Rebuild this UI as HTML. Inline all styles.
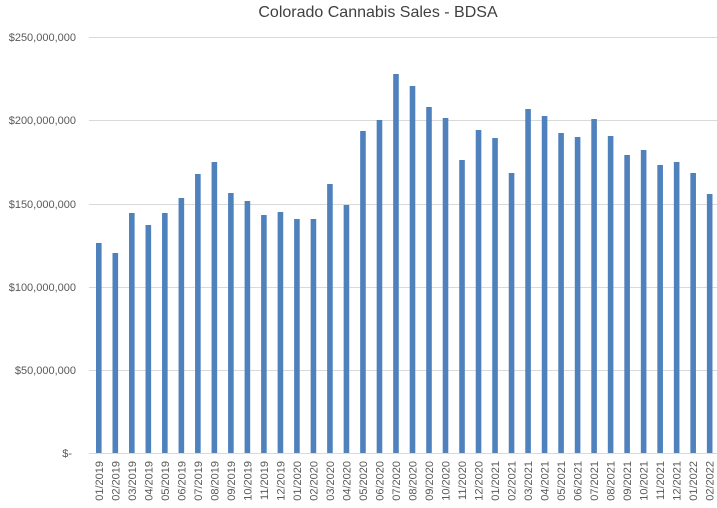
<!DOCTYPE html>
<html><head><meta charset="utf-8"><style>
html,body{margin:0;padding:0;background:#fff;}
svg{display:block;font-family:"Liberation Sans",Arial,sans-serif;}
</style></head><body>
<svg width="717" height="508" xmlns="http://www.w3.org/2000/svg">
<text x="378" y="17" text-anchor="middle" font-size="16" fill="#404040">Colorado Cannabis Sales - BDSA</text>
<g stroke="#d9d9d9" stroke-width="1">
<line x1="89" x2="717" y1="37.5" y2="37.5"/>
<line x1="89" x2="717" y1="120.5" y2="120.5"/>
<line x1="89" x2="717" y1="204.5" y2="204.5"/>
<line x1="89" x2="717" y1="287.5" y2="287.5"/>
<line x1="89" x2="717" y1="370.5" y2="370.5"/>
<line x1="89" x2="717" y1="453.5" y2="453.5"/>
</g>
<g font-size="11" fill="#595959" text-anchor="end">
<text x="76" y="41">$250,000,000</text>
<text x="76" y="124">$200,000,000</text>
<text x="76" y="208">$150,000,000</text>
<text x="76" y="291">$100,000,000</text>
<text x="76" y="374">$50,000,000</text>
<text x="72" y="457">$-</text>
</g>
<g fill="#4f81bd">
<rect x="96.00" y="243" width="5.6" height="210"/>
<rect x="112.51" y="253" width="5.6" height="200"/>
<rect x="129.02" y="213" width="5.6" height="240"/>
<rect x="145.53" y="225" width="5.6" height="228"/>
<rect x="162.04" y="213" width="5.6" height="240"/>
<rect x="178.55" y="198" width="5.6" height="255"/>
<rect x="195.06" y="174" width="5.6" height="279"/>
<rect x="211.57" y="162" width="5.6" height="291"/>
<rect x="228.08" y="193" width="5.6" height="260"/>
<rect x="244.59" y="201" width="5.6" height="252"/>
<rect x="261.10" y="215" width="5.6" height="238"/>
<rect x="277.61" y="212" width="5.6" height="241"/>
<rect x="294.12" y="219" width="5.6" height="234"/>
<rect x="310.63" y="219" width="5.6" height="234"/>
<rect x="327.14" y="184" width="5.6" height="269"/>
<rect x="343.65" y="205" width="5.6" height="248"/>
<rect x="360.16" y="131" width="5.6" height="322"/>
<rect x="376.67" y="120" width="5.6" height="333"/>
<rect x="393.18" y="74" width="5.6" height="379"/>
<rect x="409.69" y="86" width="5.6" height="367"/>
<rect x="426.20" y="107" width="5.6" height="346"/>
<rect x="442.71" y="118" width="5.6" height="335"/>
<rect x="459.22" y="160" width="5.6" height="293"/>
<rect x="475.73" y="130" width="5.6" height="323"/>
<rect x="492.24" y="138" width="5.6" height="315"/>
<rect x="508.75" y="173" width="5.6" height="280"/>
<rect x="525.26" y="109" width="5.6" height="344"/>
<rect x="541.77" y="116" width="5.6" height="337"/>
<rect x="558.28" y="133" width="5.6" height="320"/>
<rect x="574.79" y="137" width="5.6" height="316"/>
<rect x="591.30" y="119" width="5.6" height="334"/>
<rect x="607.81" y="136" width="5.6" height="317"/>
<rect x="624.32" y="155" width="5.6" height="298"/>
<rect x="640.83" y="150" width="5.6" height="303"/>
<rect x="657.34" y="165" width="5.6" height="288"/>
<rect x="673.85" y="162" width="5.6" height="291"/>
<rect x="690.36" y="173" width="5.6" height="280"/>
<rect x="706.87" y="194" width="5.6" height="259"/>
</g>
<g font-size="11" fill="#595959" text-anchor="end">
<text transform="translate(102.8,461) rotate(-90)">01/2019</text>
<text transform="translate(119.31,461) rotate(-90)">02/2019</text>
<text transform="translate(135.82,461) rotate(-90)">03/2019</text>
<text transform="translate(152.33,461) rotate(-90)">04/2019</text>
<text transform="translate(168.84,461) rotate(-90)">05/2019</text>
<text transform="translate(185.35,461) rotate(-90)">06/2019</text>
<text transform="translate(201.86,461) rotate(-90)">07/2019</text>
<text transform="translate(218.37,461) rotate(-90)">08/2019</text>
<text transform="translate(234.88,461) rotate(-90)">09/2019</text>
<text transform="translate(251.39,461) rotate(-90)">10/2019</text>
<text transform="translate(267.9,461) rotate(-90)">11/2019</text>
<text transform="translate(284.41,461) rotate(-90)">12/2019</text>
<text transform="translate(300.92,461) rotate(-90)">01/2020</text>
<text transform="translate(317.43,461) rotate(-90)">02/2020</text>
<text transform="translate(333.94,461) rotate(-90)">03/2020</text>
<text transform="translate(350.45,461) rotate(-90)">04/2020</text>
<text transform="translate(366.96,461) rotate(-90)">05/2020</text>
<text transform="translate(383.47,461) rotate(-90)">06/2020</text>
<text transform="translate(399.98,461) rotate(-90)">07/2020</text>
<text transform="translate(416.49,461) rotate(-90)">08/2020</text>
<text transform="translate(433.0,461) rotate(-90)">09/2020</text>
<text transform="translate(449.51,461) rotate(-90)">10/2020</text>
<text transform="translate(466.02,461) rotate(-90)">11/2020</text>
<text transform="translate(482.53,461) rotate(-90)">12/2020</text>
<text transform="translate(499.04,461) rotate(-90)">01/2021</text>
<text transform="translate(515.55,461) rotate(-90)">02/2021</text>
<text transform="translate(532.06,461) rotate(-90)">03/2021</text>
<text transform="translate(548.57,461) rotate(-90)">04/2021</text>
<text transform="translate(565.08,461) rotate(-90)">05/2021</text>
<text transform="translate(581.59,461) rotate(-90)">06/2021</text>
<text transform="translate(598.1,461) rotate(-90)">07/2021</text>
<text transform="translate(614.61,461) rotate(-90)">08/2021</text>
<text transform="translate(631.12,461) rotate(-90)">09/2021</text>
<text transform="translate(647.63,461) rotate(-90)">10/2021</text>
<text transform="translate(664.14,461) rotate(-90)">11/2021</text>
<text transform="translate(680.65,461) rotate(-90)">12/2021</text>
<text transform="translate(697.16,461) rotate(-90)">01/2022</text>
<text transform="translate(713.67,461) rotate(-90)">02/2022</text>
</g>
</svg>
</body></html>
